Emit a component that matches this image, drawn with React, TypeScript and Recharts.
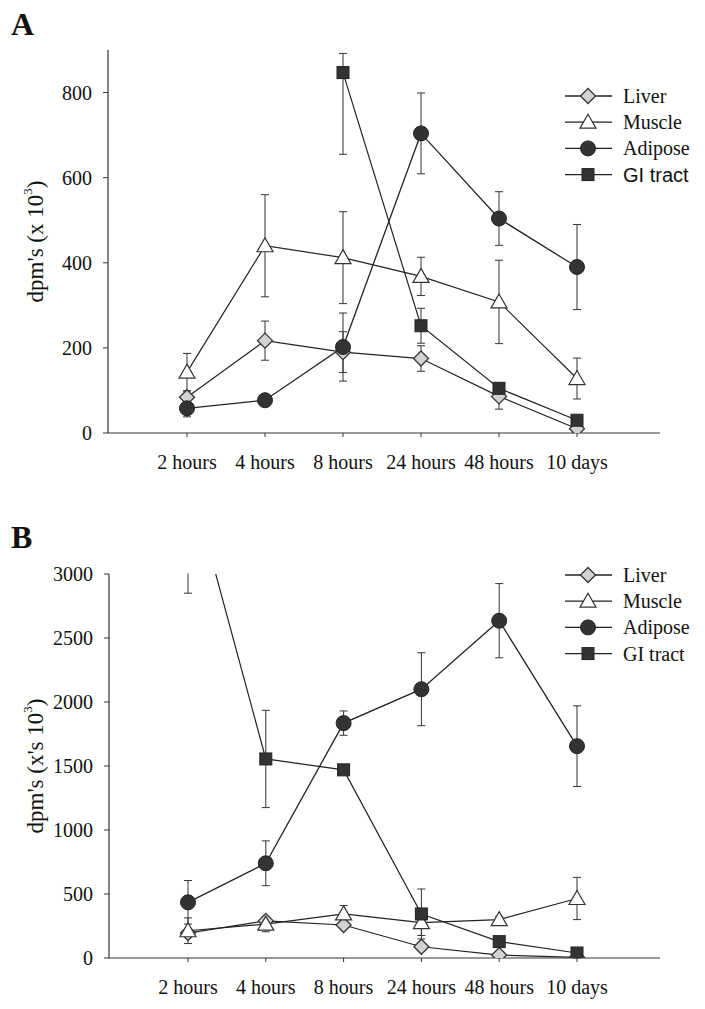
import React from 'react';
import { LineChart, Line, XAxis, YAxis, ErrorBar, Legend } from 'recharts';

const categories = ['2 hours', '4 hours', '8 hours', '24 hours', '48 hours', '10 days'];

// Panel A
const liverA = [84, 217, 190, 175, 86, 10];
const liverAErr = [15, 46, 48, 30, 30, 5];
const muscleA = [143, 440, 412, 368, 308, 128];
const muscleAErr = [44, 120, 108, 45, 98, 48];
const adiposeA = [58, 77, 202, 704, 504, 390];
const adiposeAErr = [20, 10, 80, 95, 63, 100];
const giA = [null, null, 847, 252, 105, 30];
const giAErr: any[] = [null, null, [192, 45], 41, 12, 5];
const yTicksA = [0, 200, 400, 600, 800];

// Panel B
const liverB = [195, 290, 258, 88, 23, 5];
const liverBErr = [25, 30, 30, 20, 10, 5];
const muscleB = [213, 265, 345, 276, 300, 465];
const muscleBErr = [100, 60, 65, 100, 25, 165];
const adiposeB = [435, 740, 1835, 2100, 2635, 1655];
const adiposeBErr = [170, 175, 95, 285, 290, 315];
const giB = [3800, 1555, 1470, 344, 128, 39];
const giBErr = [950, 380, 30, 195, 20, 10];
const yTicksB = [0, 500, 1000, 1500, 2000, 2500, 3000];

const seriesNames = ['Liver', 'Muscle', 'Adipose', 'GI tract'];

const dataA = categories.map((cat, i) => ({
  cat,
  liver: liverA[i], liverErr: liverAErr[i],
  muscle: muscleA[i], muscleErr: muscleAErr[i],
  adipose: adiposeA[i], adiposeErr: adiposeAErr[i],
  gi: giA[i], giErr: giAErr[i],
}));

const dataB = categories.map((cat, i) => ({
  cat,
  liver: liverB[i], liverErr: liverBErr[i],
  muscle: muscleB[i], muscleErr: muscleBErr[i],
  adipose: adiposeB[i], adiposeErr: adiposeBErr[i],
  gi: giB[i], giErr: giBErr[i],
}));

const SERIF = '"Liberation Serif", "Times New Roman", serif';
const INK = '#222';

const diamondPath = (cx: number, cy: number, r: number) =>
  `M${cx},${cy - r}L${cx + r},${cy}L${cx},${cy + r}L${cx - r},${cy}Z`;
const trianglePath = (cx: number, cy: number) =>
  `M${cx},${cy - 8}L${cx + 8},${cy + 6}L${cx - 8},${cy + 6}Z`;

const Marker = ({ kind, cx, cy }: { kind: string; cx: number; cy: number }) => {
  if (kind === 'Liver')
    return <path d={diamondPath(cx, cy, 7.5)} fill="#d2d2d2" stroke="#333" strokeWidth={1.3} />;
  if (kind === 'Muscle')
    return <path d={trianglePath(cx, cy)} fill="#fff" stroke="#333" strokeWidth={1.2} />;
  if (kind === 'Adipose') return <circle cx={cx} cy={cy} r={7.5} fill="#333" stroke="#222" strokeWidth={1} />;
  return <rect x={cx - 6} y={cy - 6} width={12} height={12} fill="#333" stroke="#222" strokeWidth={1} />;
};

const makeDot = (kind: string) => (props: any) => {
  const { cx, cy, index } = props;
  const key = `${kind}-${index}`;
  if (cx == null || cy == null || Number.isNaN(cx) || Number.isNaN(cy)) return <g key={key} />;
  return (
    <g key={key}>
      <Marker kind={kind} cx={cx} cy={cy} />
    </g>
  );
};

const makeLegend = (giFont: string) => () => (
  <svg width={140} height={110} style={{ display: 'block', overflow: 'visible' }}>
    {seriesNames.map((name, i) => {
      const y = 12 + i * 26.2;
      return (
        <g key={name}>
          <line x1={4} x2={51} y1={y} y2={y} stroke={INK} strokeWidth={1.3} />
          <Marker kind={name} cx={27} cy={y} />
          <text
            x={62}
            y={y}
            dominantBaseline="central"
            fontSize={20}
            fontFamily={name === 'GI tract' ? giFont : SERIF}
            fill="#111"
          >
            {name}
          </text>
        </g>
      );
    })}
  </svg>
);

const makeYLabel = (main: string) => (props: any) => {
  const vb = props.viewBox || {};
  const cy = (vb.y ?? 0) + (vb.height ?? 0) / 2;
  const cx = 35;
  return (
    <text
      x={cx}
      y={cy}
      transform={`rotate(-90 ${cx} ${cy})`}
      textAnchor="middle"
      dominantBaseline="central"
      fontSize={23}
      fontFamily={SERIF}
      fill="#111"
    >
      {main}
      <tspan baselineShift="super" fontSize={13}>3</tspan>
      <tspan>)</tspan>
    </text>
  );
};

const tickStyle = { fontSize: 20, fill: '#111', fontFamily: SERIF };

const Panel = ({
  data, height, margin, domain, ticks, yLabel, legendTop, giFont,
}: any) => (
  <LineChart width={705} height={height} data={data} margin={margin}>
    <XAxis
      dataKey="cat"
      padding={{ left: 79, right: 83 }}
      interval={0}
      tick={tickStyle}
      tickSize={4}
      tickMargin={18}
      height={30}
      stroke="#333"
      axisLine={{ stroke: '#333', strokeWidth: 1.2 }}
      tickLine={{ stroke: '#333' }}
    />
    <YAxis
      type="number"
      domain={domain}
      ticks={ticks}
      allowDataOverflow
      width={60}
      tick={tickStyle}
      tickSize={5}
      tickMargin={11}
      stroke="#333"
      axisLine={{ stroke: '#333', strokeWidth: 1.2 }}
      tickLine={{ stroke: '#333' }}
      label={{ content: makeYLabel(yLabel) }}
    />
    <Legend
      layout="vertical"
      align="center"
      verticalAlign="middle"
      wrapperStyle={{ left: 561, top: legendTop, width: 140, height: 110 }}
      content={makeLegend(giFont)}
    />
    <Line dataKey="liver" name="Liver" stroke={INK} strokeWidth={1.2} dot={makeDot('Liver')} activeDot={false} isAnimationActive={false}>
      <ErrorBar dataKey="liverErr" width={4} stroke="#333" strokeWidth={1} direction="y" />
    </Line>
    <Line dataKey="muscle" name="Muscle" stroke={INK} strokeWidth={1.2} dot={makeDot('Muscle')} activeDot={false} isAnimationActive={false}>
      <ErrorBar dataKey="muscleErr" width={4} stroke="#333" strokeWidth={1} direction="y" />
    </Line>
    <Line dataKey="adipose" name="Adipose" stroke={INK} strokeWidth={1.3} dot={makeDot('Adipose')} activeDot={false} isAnimationActive={false}>
      <ErrorBar dataKey="adiposeErr" width={4} stroke="#333" strokeWidth={1} direction="y" />
    </Line>
    <Line dataKey="gi" name="GI tract" stroke={INK} strokeWidth={1.2} dot={makeDot('GI tract')} activeDot={false} isAnimationActive={false}>
      <ErrorBar dataKey="giErr" width={4} stroke="#333" strokeWidth={1} direction="y" />
    </Line>
  </LineChart>
);

// keep overflowing error bars inside panel B's plotting area (values above axis max are cut off)
const panelBClip = 'polygon(0px 0px, 109px 0px, 109px 83.5px, 555px 83.5px, 555px 0px, 705px 0px, 705px 519px, 0px 519px)';

export default function App() {
  return (
    <div style={{ position: 'absolute', left: 0, top: 0, width: 705, height: 1009, background: '#fff' }}>
      <div style={{ position: 'absolute', left: 0, top: 0 }}>
        <Panel
          data={dataA}
          height={490}
          margin={{ top: 50, right: 45, left: 48, bottom: 27 }}
          domain={[0, 900]}
          ticks={yTicksA}
          yLabel="dpm's (x 10"
          legendTop={84}
          giFont='"Liberation Sans", Arial, sans-serif'
        />
      </div>
      <div style={{ position: 'absolute', left: 0, top: 490, width: 705, height: 519, clipPath: panelBClip }}>
        <Panel
          data={dataB}
          height={519}
          margin={{ top: 84, right: 45, left: 49, bottom: 21 }}
          domain={[0, 3000]}
          ticks={yTicksB}
          yLabel="dpm's (x's 10"
          legendTop={73}
          giFont={SERIF}
        />
      </div>
      <svg width={705} height={1009} style={{ position: 'absolute', left: 0, top: 0, pointerEvents: 'none' }}>
        <text x={11} y={35} fontSize={32} fontWeight="bold" fontFamily={SERIF} fill="#111">A</text>
        <text x={11} y={548} fontSize={32} fontWeight="bold" fontFamily={SERIF} fill="#111">B</text>
      </svg>
    </div>
  );
}
